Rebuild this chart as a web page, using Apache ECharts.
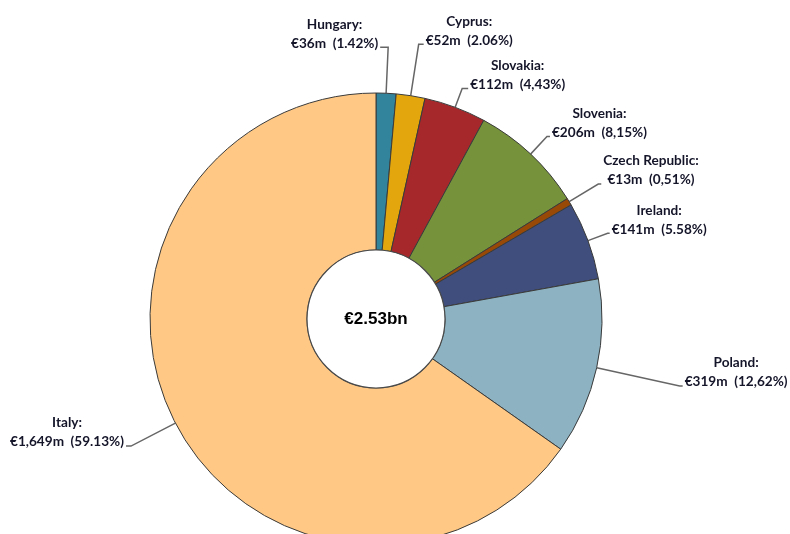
<!DOCTYPE html>
<html>
<head>
<meta charset="utf-8">
<title>Donut</title>
<script src="https://cdn.jsdelivr.net/npm/echarts@6/dist/echarts.min.js"></script>
<style>
  html, body { margin: 0; padding: 0; background: #fff; }
  #chart-box { width: 790px; height: 534px; }
</style>
</head>
<body>
<div id="chart-box"></div>
<script>
// data
const countries = ['Hungary', 'Cyprus', 'Slovakia', 'Slovenia', 'Czech Republic', 'Ireland', 'Poland', 'Italy'];
const amounts = [36, 52, 112, 206, 13, 141, 319, 1649];
const pctLabels = ['1.42%', '2.06%', '4,43%', '8,15%', '0,51%', '5.58%', '12,62%', '59.13%'];

const colors = ['#31849b', '#e3a70d', '#a7282b', '#76933c', '#984807', '#3f4e7c', '#8db3c2', '#ffc985'];
// leader line lengths (radial part, horizontal part)
const lineLen = [46, 52, 20, 24, 34, 21, 85, 50];
const lineLen2 = [8, 5, 6, 3, 3, 2, 3, 5];

const total = amounts.reduce((a, b) => a + b, 0);

const chart = echarts.init(document.getElementById('chart-box'));

const pieData = countries.map((name, i) => ({
    name: name,
    value: amounts[i],
    itemStyle: {color: colors[i]},
    labelLine: {length: lineLen[i], length2: lineLen2[i]}
}));

const txt = {fontFamily: 'Lato', fontWeight: 'bold', fontSize: 13.6, lineHeight: 19, color: '#15152a', align: 'center'};

const option = {
    animation: false,
    series: [
        {
            type: 'pie',
            center: [376, 319],
            radius: [69, 226],
            startAngle: 90,
            clockwise: true,
            avoidLabelOverlap: false,
            silent: true,
            itemStyle: {borderColor: '#3a3a3a', borderWidth: 1},
            label: {
                show: true,
                position: 'outside',
                distanceToLabelLine: 2,
                padding: [0, 0, 27, 0],
                formatter: function (p) {
                    const v = '€' + p.value.toLocaleString('en-US') + 'm  (' + pctLabels[p.dataIndex] + ')';
                    return '{n|' + p.name + ':}\n{v|' + v + '}';
                },
                rich: {n: txt, v: txt}
            },
            labelLine: {
                show: true,
                lineStyle: {color: '#666666', width: 1.5}
            },
            labelLayout: function (params) {
                // Hungary's label sits to the left of its leader line
                if (params.dataIndex === 0 && params.labelLinePoints) {
                    const pts = params.labelLinePoints;
                    const p1 = pts[1];
                    const p2 = pts[2];
                    const nx = p1[0] - (p2[0] - p1[0]);
                    return {
                        x: nx - 2,
                        y: p1[1],
                        align: 'right',
                        labelLinePoints: [pts[0], p1, [nx, p1[1]]]
                    };
                }
                return {};
            },
            emphasis: {disabled: true},
            data: pieData
        },
        {
            type: 'pie',
            center: [376, 319],
            radius: [0, 69],
            silent: true,
            z: 3,
            itemStyle: {color: '#ffffff', borderColor: '#4a4a4a', borderWidth: 1.2},
            label: {
                show: true,
                position: 'center',
                formatter: '€' + (total / 1000).toFixed(2) + 'bn',
                fontFamily: 'Liberation Sans',
                fontWeight: 'bold',
                fontSize: 17,
                color: '#000000'
            },
            labelLine: {show: false},
            emphasis: {disabled: true},
            data: [{name: 'total', value: total}]
        }
    ]
};

chart.setOption(option);
</script>
</body>
</html>
